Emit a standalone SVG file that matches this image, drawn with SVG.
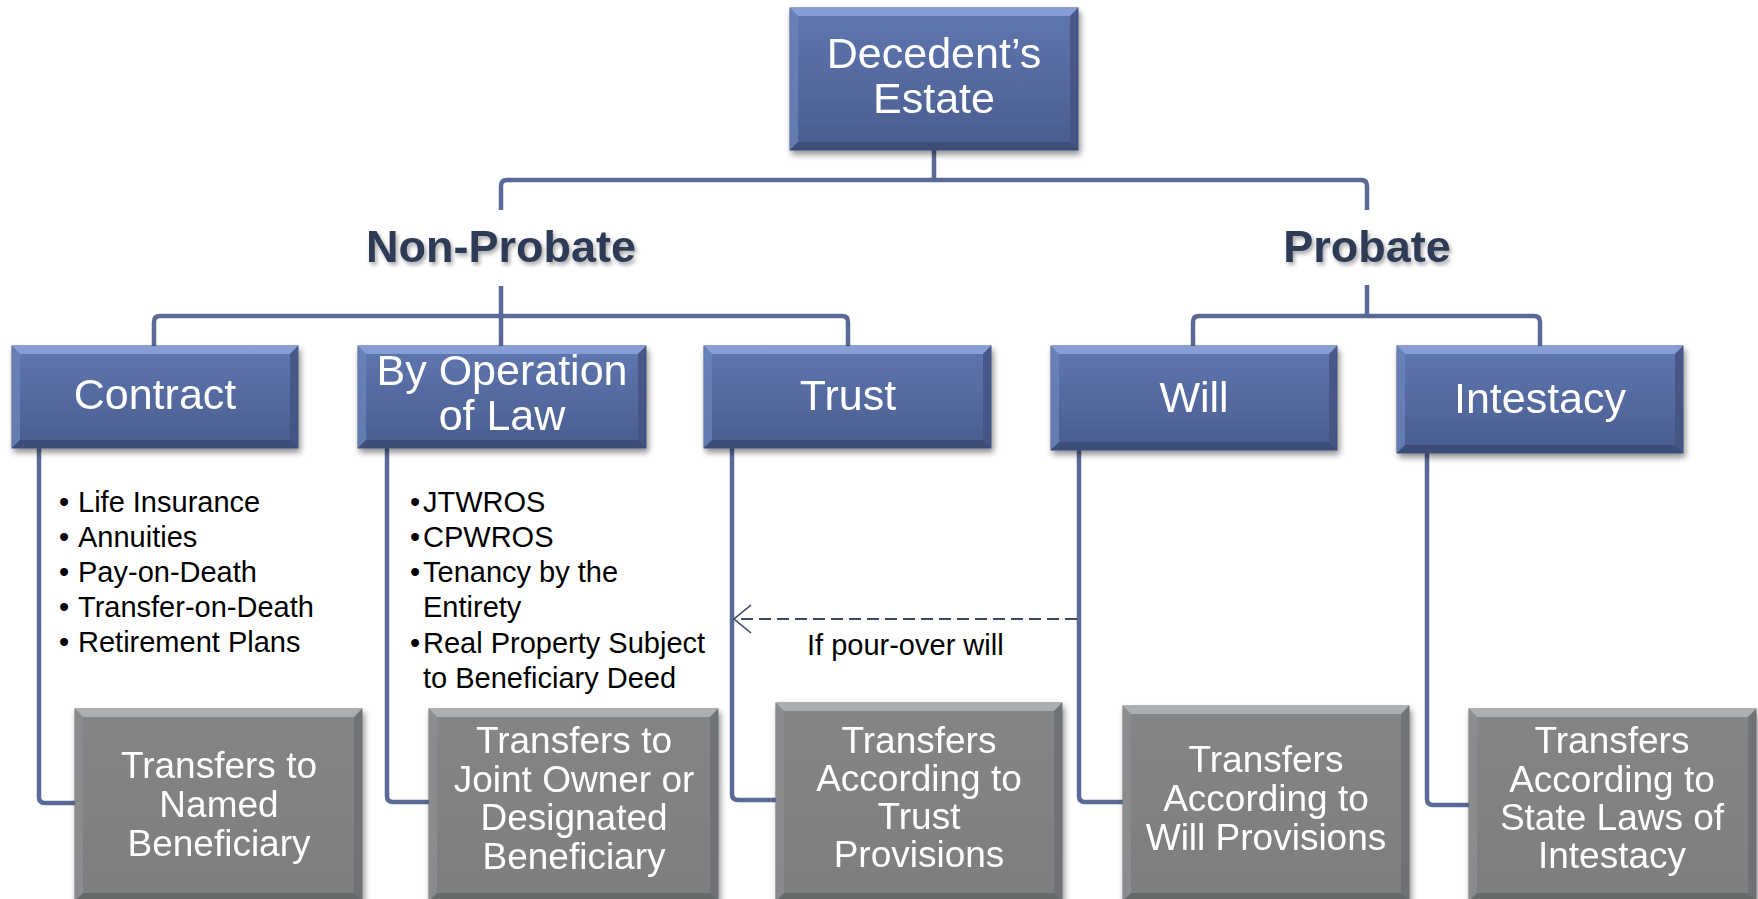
<svg xmlns="http://www.w3.org/2000/svg" width="1758" height="899" viewBox="0 0 1758 899">
  <defs>
    <linearGradient id="blueFill" x1="0" y1="0" x2="0" y2="1">
      <stop offset="0" stop-color="#5f77b0"/>
      <stop offset="1" stop-color="#4a5d8e"/>
    </linearGradient>
    <linearGradient id="grayFill" x1="0" y1="0" x2="0" y2="1">
      <stop offset="0" stop-color="#838587"/>
      <stop offset="1" stop-color="#7c7e80"/>
    </linearGradient>
    <filter id="shadow" x="-10%" y="-10%" width="125%" height="130%">
      <feGaussianBlur in="SourceAlpha" stdDeviation="3"/>
      <feOffset dx="2" dy="4" result="b"/>
      <feComponentTransfer><feFuncA type="linear" slope="0.45"/></feComponentTransfer>
      <feMerge><feMergeNode/><feMergeNode in="SourceGraphic"/></feMerge>
    </filter>
    <filter id="textShadow" x="-10%" y="-20%" width="120%" height="150%">
      <feGaussianBlur in="SourceAlpha" stdDeviation="2"/>
      <feOffset dx="2" dy="3"/>
      <feComponentTransfer><feFuncA type="linear" slope="0.35"/></feComponentTransfer>
      <feMerge><feMergeNode/><feMergeNode in="SourceGraphic"/></feMerge>
    </filter>
    <!-- open chevron arrowhead; tip sits on the path end -->
    <marker id="openArrow" viewBox="0 0 20 30" refX="19" refY="15" markerWidth="20" markerHeight="30" markerUnits="userSpaceOnUse" orient="auto">
      <path d="M2,1 L19,15 L2,29" fill="none" stroke="#3d4a63" stroke-width="1.6"/>
    </marker>
  </defs>
  <style>
    .blue { fill: url(#blueFill); stroke: #3f5080; stroke-width: 1; }
    .gray { fill: url(#grayFill); stroke: #6a6c6e; stroke-width: 1; }
    .bTop { fill: #8ea6dc; opacity: 0.85; }
    .bLeft { fill: #6a82ba; opacity: 0.8; }
    .bRight { fill: #42537f; opacity: 0.8; }
    .bBot { fill: #3b4a74; opacity: 0.85; }
    .gTop { fill: #b4b6b8; opacity: 0.85; }
    .gLeft { fill: #8d8f91; opacity: 0.8; }
    .gRight { fill: #6c6e70; opacity: 0.8; }
    .gBot { fill: #636567; opacity: 0.85; }
    .boxText { font-family: "Liberation Sans", Arial, sans-serif; font-size: 43px; fill: #ffffff; text-anchor: middle; }
    .grayText { font-family: "Liberation Sans", Arial, sans-serif; font-size: 37px; fill: #ffffff; text-anchor: middle; }
    .heading { font-family: "Liberation Sans", Arial, sans-serif; font-size: 45px; font-weight: bold; fill: #2e3a56; text-anchor: middle; }
    .list { font-family: "Liberation Sans", Arial, sans-serif; font-size: 29px; fill: #000000; }
    .conn { fill: none; stroke: #5a6a96; stroke-width: 4.5; }
    .dash { fill: none; stroke: #3d4a63; stroke-width: 1.8; stroke-dasharray: 12 6; }
  </style>

  <!-- connectors -->
  <g id="connectors">
    <path class="conn" d="M934,150 V180"/>
    <path class="conn" d="M501,210 V186 Q501,180 507,180 H1361 Q1367,180 1367,186 V210"/>
    <path class="conn" d="M501,286 V346"/>
    <path class="conn" d="M154,346 V322 Q154,316 160,316 H842 Q848,316 848,322 V346"/>
    <path class="conn" d="M1367,285 V316"/>
    <path class="conn" d="M1193,346 V322 Q1193,316 1199,316 H1534 Q1540,316 1540,322 V346"/>
    <path class="conn" d="M39,448 V797 Q39,803 45,803 H76"/>
    <path class="conn" d="M387,448 V796 Q387,802 393,802 H430"/>
    <path class="conn" d="M732,447 V794 Q732,800 738,800 H777"/>
    <path class="conn" d="M1079,450 V796 Q1079,802 1085,802 H1124"/>
    <path class="conn" d="M1427,453 V799 Q1427,805 1433,805 H1470"/>
    <path class="dash" d="M1077,619 H734" marker-end="url(#openArrow)"/>
    <text class="list" x="807" y="655">If pour-over will</text>
  </g>

  <!-- top node -->
  <g id="estate" filter="url(#shadow)">
    <rect class="blue" x="790" y="8" width="288" height="142"/>
    <polygon class="bTop" points="790,8 1078,8 1070,16 798,16"/>
    <polygon class="bLeft" points="790,8 798,16 798,142 790,150"/>
    <polygon class="bRight" points="1078,8 1070,16 1070,142 1078,150"/>
    <polygon class="bBot" points="790,150 1078,150 1070,142 798,142"/>
    <text class="boxText" x="934" y="68" font-size="45">Decedent’s</text>
    <text class="boxText" x="934" y="113" font-size="45">Estate</text>
  </g>

  <g id="nonprobate" filter="url(#textShadow)">
    <text class="heading" x="501" y="262">Non-Probate</text>
  </g>
  <g id="probate" filter="url(#textShadow)">
    <text class="heading" x="1367" y="262">Probate</text>
  </g>

  <!-- second tier -->
  <g id="contract" filter="url(#shadow)">
    <rect class="blue" x="12" y="346" width="286" height="102"/>
    <polygon class="bTop" points="12,346 298,346 290,354 20,354"/>
    <polygon class="bLeft" points="12,346 20,354 20,440 12,448"/>
    <polygon class="bRight" points="298,346 290,354 290,440 298,448"/>
    <polygon class="bBot" points="12,448 298,448 290,440 20,440"/>
    <text class="boxText" x="155" y="409">Contract</text>
  </g>
  <g id="operation-of-law" filter="url(#shadow)">
    <rect class="blue" x="358" y="346" width="288" height="102"/>
    <polygon class="bTop" points="358,346 646,346 638,354 366,354"/>
    <polygon class="bLeft" points="358,346 366,354 366,440 358,448"/>
    <polygon class="bRight" points="646,346 638,354 638,440 646,448"/>
    <polygon class="bBot" points="358,448 646,448 638,440 366,440"/>
    <text class="boxText" x="502" y="385">By Operation</text>
    <text class="boxText" x="502" y="430">of Law</text>
  </g>
  <g id="trust" filter="url(#shadow)">
    <rect class="blue" x="704" y="346" width="287" height="102"/>
    <polygon class="bTop" points="704,346 991,346 983,354 712,354"/>
    <polygon class="bLeft" points="704,346 712,354 712,440 704,448"/>
    <polygon class="bRight" points="991,346 983,354 983,440 991,448"/>
    <polygon class="bBot" points="704,448 991,448 983,440 712,440"/>
    <text class="boxText" x="848" y="410">Trust</text>
  </g>
  <g id="will" filter="url(#shadow)">
    <rect class="blue" x="1051" y="346" width="286" height="104"/>
    <polygon class="bTop" points="1051,346 1337,346 1329,354 1059,354"/>
    <polygon class="bLeft" points="1051,346 1059,354 1059,442 1051,450"/>
    <polygon class="bRight" points="1337,346 1329,354 1329,442 1337,450"/>
    <polygon class="bBot" points="1051,450 1337,450 1329,442 1059,442"/>
    <text class="boxText" x="1194" y="412">Will</text>
  </g>
  <g id="intestacy" filter="url(#shadow)">
    <rect class="blue" x="1397" y="346" width="286" height="107"/>
    <polygon class="bTop" points="1397,346 1683,346 1675,354 1405,354"/>
    <polygon class="bLeft" points="1397,346 1405,354 1405,445 1397,453"/>
    <polygon class="bRight" points="1683,346 1675,354 1675,445 1683,453"/>
    <polygon class="bBot" points="1397,453 1683,453 1675,445 1405,445"/>
    <text class="boxText" x="1540" y="413">Intestacy</text>
  </g>

  <!-- asset lists -->
  <g id="contract-list" class="list">
    <text x="59" y="512">•</text><text x="78" y="512">Life Insurance</text>
    <text x="59" y="547">•</text><text x="78" y="547">Annuities</text>
    <text x="59" y="582">•</text><text x="78" y="582">Pay-on-Death</text>
    <text x="59" y="617">•</text><text x="78" y="617">Transfer-on-Death</text>
    <text x="59" y="652">•</text><text x="78" y="652">Retirement Plans</text>
  </g>
  <g id="operation-list" class="list">
    <text x="410" y="512">•</text><text x="423" y="512">JTWROS</text>
    <text x="410" y="547">•</text><text x="423" y="547">CPWROS</text>
    <text x="410" y="582">•</text><text x="423" y="582">Tenancy by the</text>
    <text x="423" y="617">Entirety</text>
    <text x="410" y="653">•</text><text x="423" y="653">Real Property Subject</text>
    <text x="423" y="688">to Beneficiary Deed</text>
  </g>

  <!-- outcomes -->
  <g id="named-beneficiary" filter="url(#shadow)">
    <rect class="gray" x="75" y="709" width="287" height="192"/>
    <polygon class="gTop" points="75,709 362,709 354,717 83,717"/>
    <polygon class="gLeft" points="75,709 83,717 83,893 75,901"/>
    <polygon class="gRight" points="362,709 354,717 354,893 362,901"/>
    <polygon class="gBot" points="75,901 362,901 354,893 83,893"/>
    <text class="grayText" x="219" y="778">Transfers to</text>
    <text class="grayText" x="219" y="817">Named</text>
    <text class="grayText" x="219" y="856">Beneficiary</text>
  </g>
  <g id="joint-owner" filter="url(#shadow)">
    <rect class="gray" x="429" y="709" width="289" height="192"/>
    <polygon class="gTop" points="429,709 718,709 710,717 437,717"/>
    <polygon class="gLeft" points="429,709 437,717 437,893 429,901"/>
    <polygon class="gRight" points="718,709 710,717 710,893 718,901"/>
    <polygon class="gBot" points="429,901 718,901 710,893 437,893"/>
    <text class="grayText" x="574" y="753">Transfers to</text>
    <text class="grayText" x="574" y="792">Joint Owner or</text>
    <text class="grayText" x="574" y="830">Designated</text>
    <text class="grayText" x="574" y="869">Beneficiary</text>
  </g>
  <g id="trust-provisions" filter="url(#shadow)">
    <rect class="gray" x="776" y="703" width="286" height="198"/>
    <polygon class="gTop" points="776,703 1062,703 1054,711 784,711"/>
    <polygon class="gLeft" points="776,703 784,711 784,893 776,901"/>
    <polygon class="gRight" points="1062,703 1054,711 1054,893 1062,901"/>
    <polygon class="gBot" points="776,901 1062,901 1054,893 784,893"/>
    <text class="grayText" x="919" y="753">Transfers</text>
    <text class="grayText" x="919" y="791">According to</text>
    <text class="grayText" x="919" y="829">Trust</text>
    <text class="grayText" x="919" y="867">Provisions</text>
  </g>
  <g id="will-provisions" filter="url(#shadow)">
    <rect class="gray" x="1123" y="706" width="286" height="195"/>
    <polygon class="gTop" points="1123,706 1409,706 1401,714 1131,714"/>
    <polygon class="gLeft" points="1123,706 1131,714 1131,893 1123,901"/>
    <polygon class="gRight" points="1409,706 1401,714 1401,893 1409,901"/>
    <polygon class="gBot" points="1123,901 1409,901 1401,893 1131,893"/>
    <text class="grayText" x="1266" y="772">Transfers</text>
    <text class="grayText" x="1266" y="811">According to</text>
    <text class="grayText" x="1266" y="850">Will Provisions</text>
  </g>
  <g id="intestacy-laws" filter="url(#shadow)">
    <rect class="gray" x="1469" y="709" width="287" height="192"/>
    <polygon class="gTop" points="1469,709 1756,709 1748,717 1477,717"/>
    <polygon class="gLeft" points="1469,709 1477,717 1477,893 1469,901"/>
    <polygon class="gRight" points="1756,709 1748,717 1748,893 1756,901"/>
    <polygon class="gBot" points="1469,901 1756,901 1748,893 1477,893"/>
    <text class="grayText" x="1612" y="753">Transfers</text>
    <text class="grayText" x="1612" y="792">According to</text>
    <text class="grayText" x="1612" y="830">State Laws of</text>
    <text class="grayText" x="1612" y="868">Intestacy</text>
  </g>
</svg>
